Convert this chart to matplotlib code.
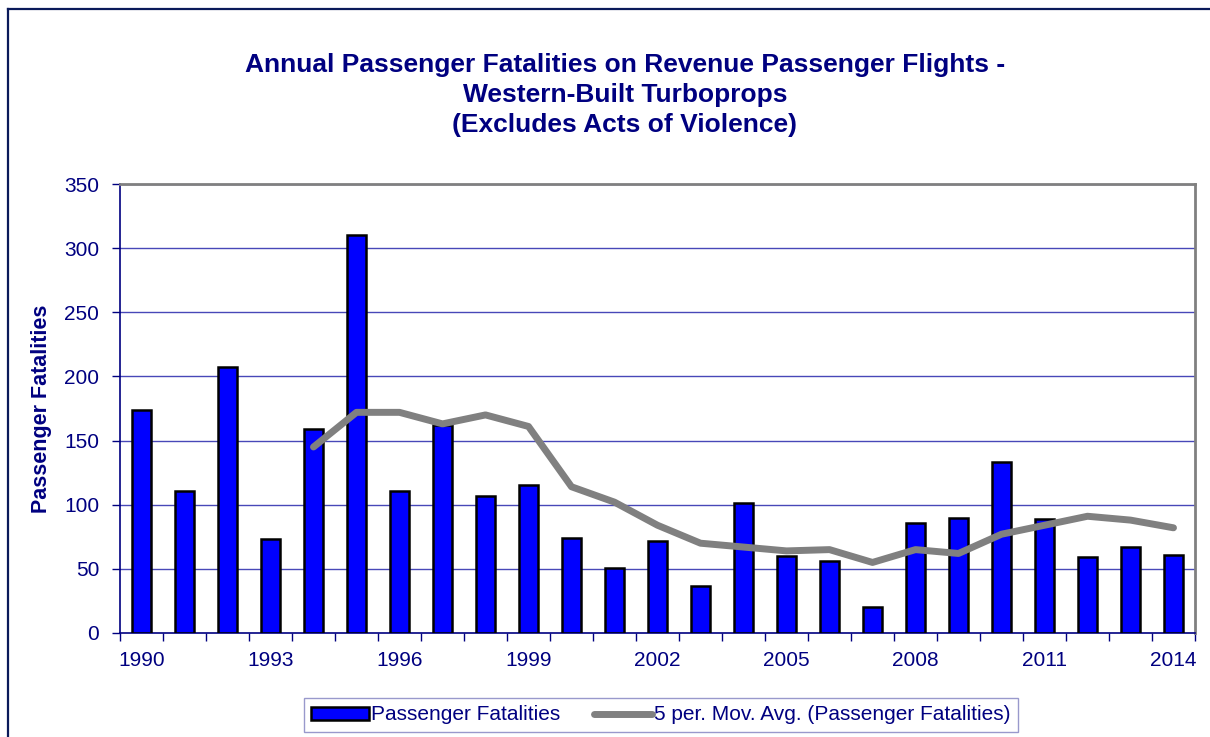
import matplotlib
matplotlib.use("Agg")
import matplotlib.pyplot as plt
import numpy as np
from matplotlib.lines import Line2D
from matplotlib.patches import Patch

years = list(range(1990, 2015))
fatalities = [174, 111, 207, 73, 159, 310, 111, 162, 107, 115, 74, 51, 72, 37,
              101, 60, 56, 20, 86, 90, 133, 89, 59, 67, 61]
ma_years = list(range(1994, 2015))
moving_avg = [145, 172, 172, 163, 170, 161, 114, 102, 84, 70, 67, 64, 65, 55,
              65, 62, 77, 84, 91, 88, 82]
tick_years = [1990, 1993, 1996, 1999, 2002, 2005, 2008, 2011, 2014]

NAVY = "#000080"
plt.rcParams['font.family'] = ['Liberation Sans', 'DejaVu Sans']

W, H = 1210, 737
fig = plt.figure(figsize=(W / 100, H / 100), dpi=100)
ax = fig.add_axes([120 / W, 1 - 633 / H, (1195 - 120) / W, (633 - 184) / H])

x = np.arange(len(years))
ax.bar(x, fatalities, width=0.42, color="#0000FF", edgecolor="black", linewidth=1.8,
       zorder=3)
xm = np.array([years.index(y) for y in ma_years])
ax.plot(xm, moving_avg, color="#808080", linewidth=5, solid_capstyle="round",
        solid_joinstyle="round", zorder=4)

ax.set_xlim(-0.5, len(years) - 0.5)
ax.set_ylim(0, 350)
ax.set_yticks(np.arange(0, 351, 50))
ax.set_xticks([years.index(y) for y in tick_years])
ax.set_xticklabels([str(y) for y in tick_years])
ax.set_xticks(np.arange(-0.5, len(years), 1), minor=True)
ax.tick_params(axis="x", which="major", length=0, pad=13, labelsize=15, labelcolor=NAVY)
ax.tick_params(axis="x", which="minor", length=6, color=NAVY, width=1)
ax.tick_params(axis="y", length=6, color=NAVY, width=1, labelsize=15, labelcolor=NAVY, pad=9)

for yv in range(50, 351, 50):
    ax.axhline(yv, color="#4848B8", linewidth=1, zorder=1)

for s in ["left", "bottom"]:
    ax.spines[s].set_color(NAVY)
    ax.spines[s].set_linewidth(1.2)
for s in ["top", "right"]:
    ax.spines[s].set_color("#808080")
    ax.spines[s].set_linewidth(2)

ax.set_ylabel("Passenger Fatalities", fontsize=15.5, fontweight="bold", color=NAVY, labelpad=9)

fig.text(625 / W, 1 - 95 / H,
         "Annual Passenger Fatalities on Revenue Passenger Flights -\n"
         "Western-Built Turboprops\n(Excludes Acts of Violence)",
         ha="center", va="center", fontsize=19, fontweight="bold", color=NAVY,
         linespacing=1.3)

handles = [Patch(facecolor="#0000FF", edgecolor="black", linewidth=1.8),
           Line2D([0], [0], color="#808080", linewidth=5, solid_capstyle="round")]
leg = fig.legend(handles, ["Passenger Fatalities", "5 per. Mov. Avg. (Passenger Fatalities)"],
                 loc="center", bbox_to_anchor=(661 / W, 1 - 715 / H), ncol=2,
                 frameon=True, fancybox=False, fontsize=15, handlelength=2.8,
                 handleheight=0.6, handletextpad=0.1, columnspacing=1.6, borderpad=0.35)
leg.get_frame().set_edgecolor("#8080C0")
leg.get_frame().set_linewidth(1)
for t in leg.get_texts():
    t.set_color(NAVY)

# figure border
fig.add_artist(Line2D([8 / W, 8 / W], [0, 1 - 9 / H], transform=fig.transFigure,
                      color="#0A1A5A", linewidth=1.6))
fig.add_artist(Line2D([8 / W, 1], [1 - 9 / H, 1 - 9 / H], transform=fig.transFigure,
                      color="#0A1A5A", linewidth=1.6))

fig.savefig("out.png", dpi=100)
